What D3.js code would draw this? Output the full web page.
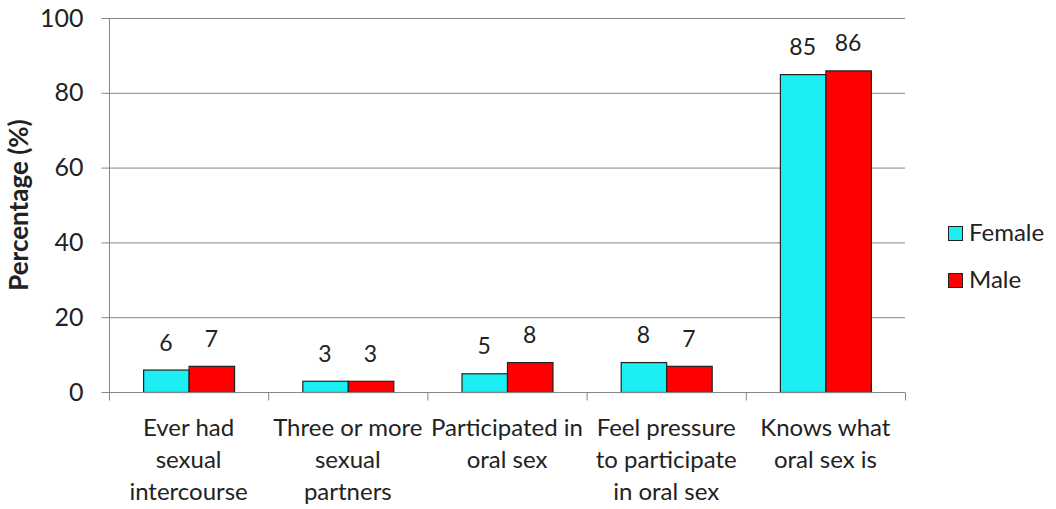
<!DOCTYPE html>
<html><head><meta charset="utf-8">
<script src="https://cdn.jsdelivr.net/npm/d3@7"></script>
<style>
body{margin:0;background:#fff;}
text{font-family:Lato,"Open Sans",sans-serif;fill:#222;}
</style></head>
<body><svg id="c" width="1056" height="509"></svg>
<script>
const categories = ["Ever had sexual intercourse","Three or more sexual partners","Participated in oral sex","Feel pressure to participate in oral sex","Knows what oral sex is"];
const categoryLines = [["Ever had","sexual","intercourse"],["Three or more","sexual","partners"],["Participated in","oral sex"],["Feel pressure","to participate","in oral sex"],["Knows what","oral sex is"]];
const series = ["Female","Male"];
const female = [6,3,5,8,85];
const male = [7,3,8,7,86];
const yTicks = [0,20,40,60,80,100];
const colors = ["#1BEFF3","#FF0000"];

const svg = d3.select("#c");
const pL=109, pR=905, pT=18, pB=392;
const x = d3.scaleBand().domain(categories).range([pL,pR]).padding(0);
const x1 = d3.scaleBand().domain(series).range([0,x.bandwidth()]).paddingInner(0).paddingOuter(0.75);
const y = d3.scaleLinear().domain([0,100]).range([pB,pT]);
const values = [female, male];

// gridlines
svg.append("g").selectAll("line").data(yTicks.filter(d=>d>0)).join("line")
  .attr("x1",pL).attr("x2",pR).attr("y1",d=>y(d)+0.5).attr("y2",d=>y(d)+0.5)
  .attr("stroke","#868686").attr("stroke-width",1);

// y axis
const ya = svg.append("g").attr("transform",`translate(${pL+0.5},0)`)
  .call(d3.axisLeft(y).tickValues(yTicks).tickSize(8).tickPadding(18));
ya.select(".domain").attr("stroke","#868686").attr("d",`M0,${y(100)}V${y(0)}`);
ya.selectAll(".tick line").attr("stroke","#868686");
ya.selectAll(".tick text").style("font-size","25px").attr("fill","#222").style("font-family","Lato");

// bars
const groups = svg.append("g").selectAll("g").data(categories).join("g")
  .attr("transform",d=>`translate(${x(d)},0)`);
groups.each(function(c,i){
  const g=d3.select(this);
  series.forEach((s,j)=>{
    const v=values[j][i];
    g.append("rect").attr("x",x1(s)+0.5).attr("y",y(v)+0.5)
      .attr("width",x1.bandwidth()).attr("height",y(0)-y(v))
      .attr("fill",colors[j]).attr("stroke","#222").attr("stroke-width",1.2);
    g.append("text").attr("x",x1(s)+x1.bandwidth()/2).attr("y",y(v)-19)
      .attr("text-anchor","middle").style("font-size","23px").text(v);
  });
});

// x axis
const xa = svg.append("g").attr("transform",`translate(0,${pB+0.5})`);
xa.append("line").attr("x1",pL).attr("x2",pR).attr("stroke","#868686");
const bounds = x.domain().map(d=>x(d)).concat([pR]);
xa.selectAll("line.t").data(bounds).join("line").attr("class","t")
  .attr("x1",d=>d+0.5).attr("x2",d=>d+0.5).attr("y1",0).attr("y2",8).attr("stroke","#868686");
categories.forEach((c,i)=>{
  const t = svg.append("text").attr("text-anchor","middle").style("font-size","24px");
  categoryLines[i].forEach((ln,k)=>{
    t.append("tspan").attr("x",x(c)+x.bandwidth()/2).attr("y",436+k*32).text(ln);
  });
});

// y title
svg.append("text").attr("transform","translate(28,205) rotate(-90)")
  .attr("text-anchor","middle").style("font-size","26px").style("font-weight","bold")
  .text("Percentage (%)");

// legend
const lg = svg.append("g").selectAll("g").data(series).join("g")
  .attr("transform",(d,i)=>`translate(948,${226+i*47})`);
lg.append("rect").attr("x",0.5).attr("y",0.5).attr("width",14).attr("height",14)
  .attr("fill",(d,i)=>colors[i]).attr("stroke","#222");
lg.append("text").attr("x",21).attr("y",15).style("font-size","24px").text(d=>d);
</script></body></html>
